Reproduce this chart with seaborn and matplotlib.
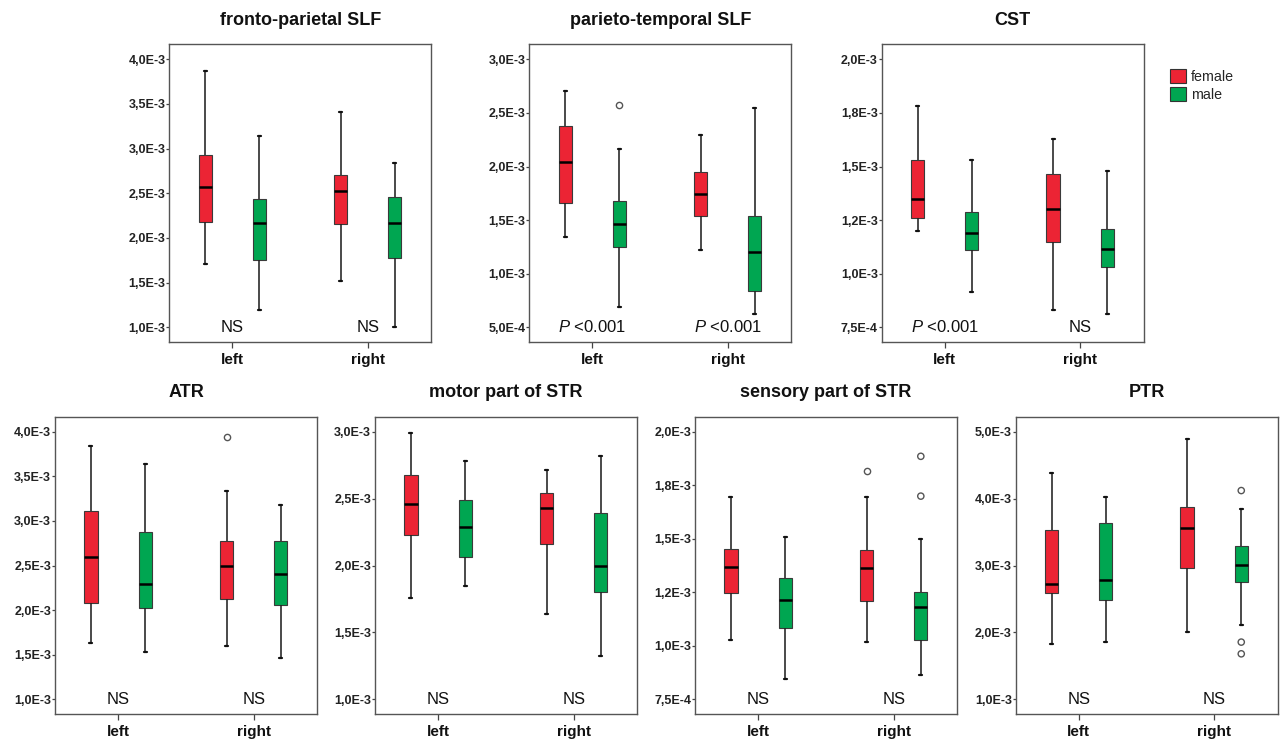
# box plots of tract values by side and sex (female / male)
import matplotlib
matplotlib.use('Agg')
import matplotlib.pyplot as plt
import matplotlib.patches as mpatches
import seaborn as sns
import pandas as pd

sns.set_style('ticks')
plt.rcParams['font.family'] = ['Liberation Sans', 'DejaVu Sans']
plt.rcParams['mathtext.fontset'] = 'custom'
plt.rcParams['mathtext.it'] = 'Liberation Sans:italic'
plt.rcParams['mathtext.rm'] = 'Liberation Sans'

sides = ['left', 'right']
sexes = ['female', 'male']
colors = {'female': '#EC2434', 'male': '#00A651'}

# values in units of 1E-3; each box is [low whisker, Q1, median, Q3, high whisker], for left then right
fp_female = [[1.71, 2.18, 2.57, 2.93, 3.87], [1.52, 2.16, 2.53, 2.70, 3.41]]
fp_male = [[1.19, 1.75, 2.17, 2.44, 3.14], [1.00, 1.78, 2.17, 2.46, 2.84]]
fp_outliers = []
fp_notes = ['NS', 'NS']

pt_female = [[1.34, 1.66, 2.04, 2.38, 2.70], [1.22, 1.54, 1.74, 1.95, 2.29]]
pt_male = [[0.69, 1.25, 1.46, 1.68, 2.16], [0.62, 0.84, 1.20, 1.54, 2.55]]
pt_outliers = [('left', 'male', 2.57)]
pt_notes = ['$P$ <0.001', '$P$ <0.001']

cst_female = [[1.20, 1.26, 1.35, 1.53, 1.78], [0.83, 1.15, 1.30, 1.465, 1.63]]
cst_male = [[0.915, 1.11, 1.19, 1.29, 1.53], [0.81, 1.03, 1.115, 1.21, 1.48]]
cst_outliers = []
cst_notes = ['$P$ <0.001', 'NS']

atr_female = [[1.63, 2.08, 2.59, 3.11, 3.84], [1.60, 2.12, 2.49, 2.78, 3.33]]
atr_male = [[1.53, 2.02, 2.29, 2.87, 3.64], [1.46, 2.06, 2.40, 2.78, 3.18]]
atr_outliers = [('right', 'female', 3.94)]
atr_notes = ['NS', 'NS']

mstr_female = [[1.76, 2.23, 2.46, 2.68, 2.99], [1.64, 2.16, 2.43, 2.54, 2.71]]
mstr_male = [[1.85, 2.06, 2.29, 2.49, 2.78], [1.32, 1.80, 2.00, 2.39, 2.82]]
mstr_outliers = []
mstr_notes = ['NS', 'NS']

sstr_female = [[1.025, 1.245, 1.37, 1.453, 1.696], [1.02, 1.21, 1.363, 1.449, 1.696]]
sstr_male = [[0.845, 1.084, 1.213, 1.318, 1.509], [0.863, 1.025, 1.183, 1.253, 1.50]]
sstr_outliers = [('right', 'female', 1.817), ('right', 'male', 1.885), ('right', 'male', 1.699)]
sstr_notes = ['NS', 'NS']

ptr_female = [[1.83, 2.595, 2.72, 3.535, 4.38], [2.01, 2.97, 3.56, 3.87, 4.89]]
ptr_male = [[1.86, 2.49, 2.79, 3.63, 4.02], [2.11, 2.76, 3.01, 3.29, 3.85]]
ptr_outliers = [('right', 'male', 4.12), ('right', 'male', 1.855), ('right', 'male', 1.68)]
ptr_notes = ['NS', 'NS']

ticks_4 = [1.0, 1.5, 2.0, 2.5, 3.0, 3.5, 4.0]
labels_4 = ['1,0E-3', '1,5E-3', '2,0E-3', '2,5E-3', '3,0E-3', '3,5E-3', '4,0E-3']
ticks_3 = [0.5, 1.0, 1.5, 2.0, 2.5, 3.0]
labels_3 = ['5,0E-4', '1,0E-3', '1,5E-3', '2,0E-3', '2,5E-3', '3,0E-3']
ticks_2 = [0.75, 1.0, 1.25, 1.5, 1.75, 2.0]
labels_2 = ['7,5E-4', '1,0E-3', '1,2E-3', '1,5E-3', '1,8E-3', '2,0E-3']
ticks_m = [1.0, 1.5, 2.0, 2.5, 3.0]
labels_m = ['1,0E-3', '1,5E-3', '2,0E-3', '2,5E-3', '3,0E-3']
ticks_5 = [1.0, 2.0, 3.0, 4.0, 5.0]
labels_5 = ['1,0E-3', '2,0E-3', '3,0E-3', '4,0E-3', '5,0E-3']


def draw_panel(ax, title, female, male, outliers, ticks, tick_labels, ylim, notes):
    rows = []
    for i, side in enumerate(sides):
        for sex, boxes in zip(sexes, [female, male]):
            for v in boxes[i]:
                rows.append((side, sex, v))
    df = pd.DataFrame(rows, columns=['side', 'sex', 'value'])
    sns.boxplot(data=df, x='side', y='value', hue='sex', order=sides, hue_order=sexes,
                palette=colors, saturation=1, width=0.8, gap=0.755, whis=(0, 100),
                showfliers=False, legend=False, ax=ax,
                boxprops=dict(edgecolor='#3a3a3a', linewidth=0.8),
                medianprops=dict(color='black', linewidth=1.8),
                whiskerprops=dict(color='#222222', linewidth=1.15),
                capprops=dict(color='#111111', linewidth=1.6),
                capwidths=0.022)
    if outliers:
        odf = pd.DataFrame(outliers, columns=['side', 'sex', 'value'])
        sns.stripplot(data=odf, x='side', y='value', hue='sex', order=sides, hue_order=sexes,
                      dodge=True, jitter=False, palette={'female': 'white', 'male': 'white'},
                      edgecolor='#555555', linewidth=1, size=4.5, legend=False, ax=ax)
    ax.set_xlim(-0.465, 1.469)
    ax.set_ylim(*ylim)
    ax.set_yticks(ticks)
    ax.set_yticklabels(tick_labels, fontweight='bold', fontsize=9, color='#222222')
    ax.set_xticks([0, 1])
    ax.set_xticklabels(sides, fontweight='bold', fontsize=11, color='#111111')
    ax.set_xlabel('')
    ax.set_ylabel('')
    for s in ax.spines.values():
        s.set_visible(True)
        s.set_color('#555555')
        s.set_linewidth(1.0)
    ax.tick_params(axis='y', length=2.2, width=0.9, pad=0.5, color='#444444')
    ax.tick_params(axis='x', length=4.3, width=0.9, pad=3.2, color='#444444')
    ax.set_title(title, fontweight='bold', fontsize=13, pad=14, color='#111111')
    for i, note in enumerate(notes):
        ax.text(i, ticks[0], note, ha='center', va='center', fontsize=12, color='#111111')


def rect(left, top, w, h):
    return [left / 1280, 1 - (top + h) / 740, w / 1280, h / 740]


fig = plt.figure(figsize=(12.8, 7.4), dpi=100)

ax1 = fig.add_axes(rect(169.3, 44.3, 262, 298))
draw_panel(ax1, 'fronto-parietal SLF', fp_female, fp_male, fp_outliers, ticks_4, labels_4, (0.832, 4.168), fp_notes)
ax2 = fig.add_axes(rect(529.3, 44.3, 262, 298))
draw_panel(ax2, 'parieto-temporal SLF', pt_female, pt_male, pt_outliers, ticks_3, labels_3, (0.36, 3.14), pt_notes)
ax3 = fig.add_axes(rect(881.7, 44.3, 262, 298))
draw_panel(ax3, 'CST', cst_female, cst_male, cst_outliers, ticks_2, labels_2, (0.68, 2.07), cst_notes)

ax4 = fig.add_axes(rect(55, 416.7, 262.3, 297.6))
draw_panel(ax4, 'ATR', atr_female, atr_male, atr_outliers, ticks_4, labels_4, (0.832, 4.168), atr_notes)
ax5 = fig.add_axes(rect(375, 416.7, 262.3, 297.6))
draw_panel(ax5, 'motor part of STR', mstr_female, mstr_male, mstr_outliers, ticks_m, labels_m, (0.888, 3.112), mstr_notes)
ax6 = fig.add_axes(rect(695, 416.7, 262.3, 297.6))
draw_panel(ax6, 'sensory part of STR', sstr_female, sstr_male, sstr_outliers, ticks_2, labels_2, (0.68, 2.07), sstr_notes)
ax7 = fig.add_axes(rect(1015.7, 416.7, 262, 297.6))
draw_panel(ax7, 'PTR', ptr_female, ptr_male, ptr_outliers, ticks_5, labels_5, (0.776, 5.224), ptr_notes)

handles = [mpatches.Patch(facecolor=colors[s], edgecolor='#333333', linewidth=0.8, label=s) for s in sexes]
fig.legend(handles=handles, loc='upper left', bbox_to_anchor=(1170 / 1280, 1 - 69 / 740),
           frameon=False, fontsize=10.3, handlelength=1.1, handleheight=1.1,
           handletextpad=0.35, labelspacing=0.25, borderpad=0, borderaxespad=0)

fig.savefig('out.png', dpi=100)
